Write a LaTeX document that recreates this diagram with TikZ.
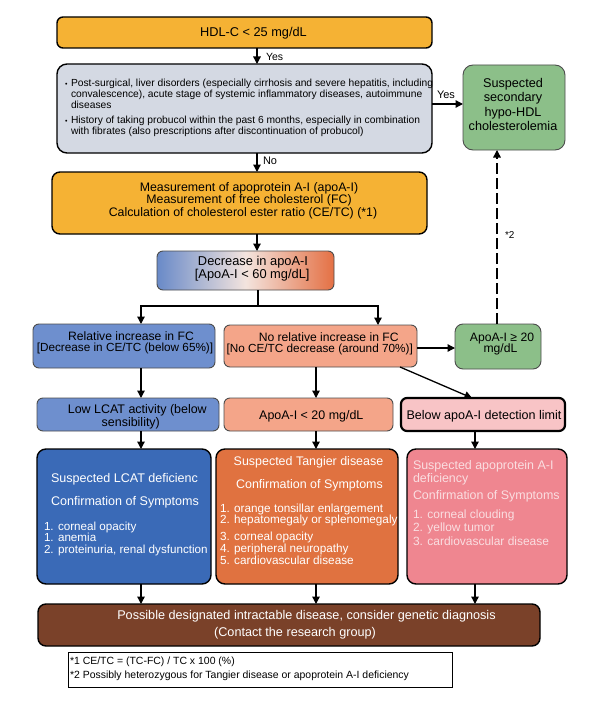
\documentclass[tikz,border=0pt]{standalone}
\usepackage{fontspec}
\setmainfont{Liberation Sans}
\usetikzlibrary{arrows.meta,fit}
\newcommand\myfs[2]{\fontsize{#1}{#2}\selectfont}
\definecolor{cOr}{RGB}{245,178,52}
\definecolor{cGr}{RGB}{212,217,227}
\definecolor{cGn}{RGB}{140,191,137}
\definecolor{cBlT}{RGB}{110,143,206}
\definecolor{cSa}{RGB}{244,165,137}
\definecolor{cPk}{RGB}{248,196,198}
\definecolor{cBlF}{RGB}{58,106,183}
\definecolor{cOrF}{RGB}{224,114,64}
\definecolor{cPkF}{RGB}{239,134,144}
\definecolor{cBr}{RGB}{122,65,41}
\definecolor{gBl}{RGB}{105,138,200}
\definecolor{gMid}{RGB}{243,228,222}
\definecolor{gOr}{RGB}{228,112,68}
\definecolor{cPkTxt}{RGB}{250,222,225}
\begin{document}
\begin{tikzpicture}[x=1bp,y=-1bp,
  bx/.style={draw=black, line width=1.4bp, rounded corners=6bp, inner sep=0pt, outer sep=0pt},
  thinbox/.style={draw=black!70, line width=0.9bp, rounded corners=6bp, inner sep=0pt, outer sep=0pt},
  txt/.style={inner sep=0pt, outer sep=0pt},
  ctr/.style={txt, anchor=base},
  arr/.style={line width=1.3bp, -{Triangle[length=7.5bp,width=7.5bp]}}]
\useasboundingbox (0,0) rectangle (593,705);
% column helpers
\coordinate (cA) at (257,0);
\coordinate (cB) at (0,104);
\coordinate (bj) at (258,306);
\coordinate (bl) at (141,306);
\coordinate (br) at (378,306);
\coordinate (cC) at (0,348);
\coordinate (cD) at (497,0);
\coordinate (k1) at (141,0);
\coordinate (k2) at (316,0);
\coordinate (k3) at (475,0);
\coordinate (d1) at (400,0);
\coordinate (d2) at (472,0);

% top
\node[bx, fill=cOr, fit={(57,17) (432,48)}] (hdl) {};
\node[ctr, font=\myfs{12.8}{14}] (hdlT) at (253.5,36.9) {HDL-C < 25 mg/dL};

\node[bx, fill=cGr, rounded corners=10bp, fit={(57,64) (432,153)}] (grey) {};
\node[txt, anchor=north west, align=left, font=\myfs{10.3}{11}] (greytxt) at (71,79.2)
 {\llap{\myfs{7}{7}•\hspace{3.5bp}}Post-surgical, liver disorders (especially cirrhosis and severe hepatitis, including\\
  convalescence), acute stage of systemic inflammatory diseases, autoimmune\\
  diseases\\[4bp]
  \llap{\myfs{7}{7}•\hspace{3.5bp}}History of taking probucol within the past 6 months, especially in combination\\
  with fibrates (also prescriptions after discontinuation of probucol)};

\node[thinbox, fill=cGn, rounded corners=10bp, fit={(463,65) (565,150)}] (green) {};
\node[txt, anchor=north, align=center, font=\myfs{12.7}{14.5}] (greenT) at (513,78.3)
 {Suspected\\secondary\\hypo-HDL\\cholesterolemia};

\node[txt, anchor=base west, font=\myfs{10.5}{12}] (yesA) at (266,60.8) {Yes};
\node[txt, anchor=base west, font=\myfs{11}{12}] (yesB) at (437,99) {Yes};
\node[txt, anchor=base west, font=\myfs{11}{12}] (noA) at (263,164) {No};

\node[bx, fill=cOr, rounded corners=8bp, fit={(52,172) (427,234)}] (meas) {};
\node[ctr, font=\myfs{12.4}{13}] (measA) at (249,191.2) {Measurement of apoprotein A-I (apoA-I)};
\node[ctr, font=\myfs{12.4}{13}] (measB) at (249,203.8) {Measurement of free cholesterol (FC)};
\node[ctr, font=\myfs{12.4}{13}] (measC) at (243,216.2) {Calculation of cholesterol ester ratio (CE/TC) (*1)};

\node[thinbox, left color=gBl, right color=gOr, middle color=gMid, fit={(157,251) (334,290)}] (grad) {};
\node[ctr, font=\myfs{12.9}{13}] (gradA) at (253,265.6) {Decrease in apoA-I};
\node[ctr, font=\myfs{12.9}{13}] (gradB) at (252.2,278.9) {[ApoA-I < 60 mg/dL]};

% row 3
\node[thinbox, fill=cBlT, fit={(33,324) (215,368)}] (rtl) {};
\node[ctr, font=\myfs{12.2}{13}] (rtlA) at (131,340.1) {Relative increase in FC};
\node[ctr, font=\myfs{11.8}{13}] (rtlB) at (125,351.6) {[Decrease in CE/TC (below 65\%)]};
\node[thinbox, fill=cSa, fit={(224,325) (417,367)}] (rtm) {};
\node[ctr, font=\myfs{12.2}{13}] (rtmA) at (328.7,341.1) {No relative increase in FC};
\node[ctr, font=\myfs{11.8}{13}] (rtmB) at (319.7,352.5) {[No CE/TC decrease (around 70\%)]};
\node[thinbox, fill=cGn, rounded corners=8bp, fit={(455,324) (541,369)}] (rtg) {};
\node[ctr, font=\myfs{12.2}{13}] (rtgA) at (502,341.1) {ApoA-I ≥ 20};
\node[ctr, font=\myfs{12.2}{13}] (rtgB) at (500.5,352) {mg/dL};
\node[txt, anchor=base west, font=\myfs{10}{12}] (fn2) at (505,238.6) {*2};

% row 4
\node[thinbox, fill=cBlT, fit={(37,398) (219,431)}] (rfl) {};
\node[ctr, font=\myfs{12.5}{14}] (rflA) at (137.3,413.5) {Low LCAT activity (below};
\node[ctr, font=\myfs{12.5}{14}] (rflB) at (130.8,426.8) {sensibility)};
\node[thinbox, fill=cSa, fit={(224,398) (393,431)}] (rfm) {};
\node[ctr, font=\myfs{12.5}{14}] (rfmA) at (311.3,419.2) {ApoA-I < 20 mg/dL};
\node[bx, line width=2.2bp, fill=cPk, fit={(401,398) (565,431)}] (rfr) {};
\node[ctr, font=\myfs{12.6}{14}] (rfrA) at (484,419.2) {Below apoA-I detection limit};

% row 5
\node[bx, fill=cBlF, rounded corners=9bp, fit={(37,449) (211,584)}] (rvl) {};
\node[bx, fill=cOrF, rounded corners=9bp, fit={(216,449) (398,584)}] (rvm) {};
\node[bx, fill=cPkF, rounded corners=9bp, fit={(407,449) (567,584)}] (rvr) {};

\node[ctr, text=white, font=\myfs{12.6}{14}] (lh1) at (124.5,482.5) {Suspected LCAT deficienc};
\node[ctr, text=white, font=\myfs{12.6}{14}] (lh2) at (125,505.5) {Confirmation of Symptoms};
\node[txt, anchor=north west, align=left, text=white, font=\myfs{11.7}{11.5}] (llist) at (44,521.7)
 {1. corneal opacity\\1. anemia\\2. proteinuria, renal dysfunction};

\node[ctr, text=white, font=\myfs{12.5}{14}] (mh1) at (308.5,465.5) {Suspected Tangier disease};
\node[ctr, text=white, font=\myfs{12.5}{14}] (mh2) at (309.5,488.5) {Confirmation of Symptoms};
\node[txt, anchor=north west, align=left, text=white, font=\myfs{11.8}{11.8}] (mlist) at (220,503.6)
 {1. orange tonsillar enlargement\\2. hepatomegaly or splenomegaly\\[5bp]3. corneal opacity\\4. peripheral neuropathy\\5. cardiovascular disease};

\node[txt, anchor=north west, align=left, text=cPkTxt, font=\myfs{12.5}{11}] (rhead) at (413,460.4)
 {Suspected apoprotein A-I\\deficiency\\[5bp]Confirmation of Symptoms};
\node[txt, anchor=north west, align=left, text=cPkTxt, font=\myfs{12}{13.5}] (rlist) at (413,509.6)
 {1. corneal clouding\\2. yellow tumor\\3. cardiovascular disease};

% bottom
\node[bx, fill=cBr, rounded corners=8bp, fit={(38,604) (540,646)}] (brown) {};
\node[ctr, text=white, font=\myfs{12.7}{14}] (brownA) at (306.5,619.6)
 {Possible designated intractable disease, consider genetic diagnosis};
\node[ctr, text=white, font=\myfs{12.7}{14}] (brownB) at (295,636.6) {(Contact the research group)};
\node[draw=black, line width=1bp, inner sep=0pt, fit={(68,652) (452,687)}] (foot) {};
\node[txt, anchor=north west, align=left, font=\myfs{10.5}{14}] (foottxt) at (70,657)
 {*1 CE/TC = (TC-FC) / TC x 100 (\%)\\{}*2 Possibly heterozygous for Tangier disease or apoprotein A-I deficiency};

% connectors
\draw[arr] (hdl.south -| cA) -- (grey.north -| cA);
\draw[arr] (grey.east |- cB) -- (green.west |- cB);
\draw[arr] (grey.south -| cA) -- (meas.north -| cA);
\draw[arr] (meas.south -| cA) -- (grad.north -| cA);
\draw[arr] (grad.south -| bj) -- (bj) -| (rtl.north -| bl);
\draw[arr] (bj) -| (rtm.north -| br);
\draw[arr] (rtm.east |- cC) -- (rtg.west |- cC);
\draw[arr, dash pattern=on 11bp off 4bp] (rtg.north -| cD) -- (green.south -| cD);
\draw[arr] (rtl.south -| k1) -- (rfl.north -| k1);
\draw[arr] (rtm.south -| k2) -- (rfm.north -| k2);
\draw[arr] (rtm.south -| d1) -- (rfr.north -| d2);
\draw[arr] (rfl.south -| k1) -- (rvl.north -| k1);
\draw[arr] (rfm.south -| k2) -- (rvm.north -| k2);
\draw[arr] (rfr.south -| k3) -- (rvr.north -| k3);
\draw[arr] (rvl.south -| k1) -- (brown.north -| k1);
\draw[arr] (rvm.south -| k2) -- (brown.north -| k2);
\draw[arr] (rvr.south -| k3) -- (brown.north -| k3);
\end{tikzpicture}
\end{document}
